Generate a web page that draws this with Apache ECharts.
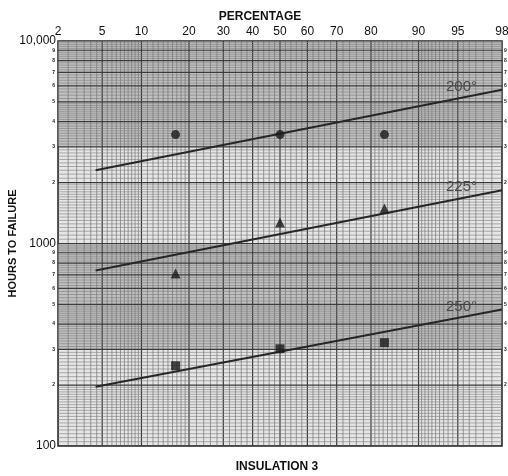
<!DOCTYPE html>
<html>
<head>
<meta charset="utf-8">
<script src="https://cdn.jsdelivr.net/npm/echarts@6/dist/echarts.min.js"></script>
<style>
html, body { margin: 0; padding: 0; background: #fff; }
#main { width: 508px; height: 476px; }
</style>
</head>
<body>
<div id="main"></div>
<script>
// data
var pctLabels = [2, 5, 10, 20, 30, 40, 50, 60, 70, 80, 90, 95, 98];
var pointPct = [16.7, 50, 83.3];
var hours200 = [3450, 3450, 3450];
var hours225 = [710, 1270, 1490];
var hours250 = [249, 302, 324];
// fitted lines, start and end (percent, hours)
var linePct = [4.4, 98];
var line200 = [2300, 5750];
var line225 = [735, 1830];
var line250 = [196, 472];
var shadedBands = [[3000, 10000], [300, 1000]];

// inverse normal cdf (Acklam) for probability paper
function probit(p) {
	var a = [-3.969683028665376e+01, 2.209460984245205e+02, -2.759285104469687e+02, 1.383577518672690e+02, -3.066479806614716e+01, 2.506628277459239e+00];
	var b = [-5.447609879822406e+01, 1.615858368580409e+02, -1.556989798598866e+02, 6.680131188771972e+01, -1.328068155288572e+01];
	var c = [-7.784894002430293e-03, -3.223964580411365e-01, -2.400758277161838e+00, -2.549732953214325e+00, 4.374664141464968e+00, 2.938163982698783e+00];
	var d = [7.784695709041462e-03, 3.224671290700398e-01, 2.445134137142996e+00, 3.754408661907416e+00];
	var plow = 0.02425, q, r;
	if (p < plow) {
		q = Math.sqrt(-2 * Math.log(p));
		return (((((c[0]*q+c[1])*q+c[2])*q+c[3])*q+c[4])*q+c[5]) / ((((d[0]*q+d[1])*q+d[2])*q+d[3])*q+1);
	}
	if (p <= 1 - plow) {
		q = p - 0.5; r = q * q;
		return (((((a[0]*r+a[1])*r+a[2])*r+a[3])*r+a[4])*r+a[5])*q / (((((b[0]*r+b[1])*r+b[2])*r+b[3])*r+b[4])*r+1);
	}
	q = Math.sqrt(-2 * Math.log(1 - p));
	return -(((((c[0]*q+c[1])*q+c[2])*q+c[3])*q+c[4])*q+c[5]) / ((((d[0]*q+d[1])*q+d[2])*q+d[3])*q+1);
}
function zp(pct) { return probit(pct / 100); }

var zMin = zp(2), zMax = zp(98);
var yMin = 100, yMax = 10000;

// paper grid (styling only)
var vGrid = [];
function addV(from, to, step) {
	for (var p = from; p <= to + 1e-9; p += step) {
		var v = Math.round(p * 10) / 10;
		vGrid.push([zp(v), yMin, pctLabels.indexOf(v) >= 0 ? 1 : 0]);
	}
}
addV(2, 9.5, 0.5); addV(10, 19, 1); addV(20, 78, 2); addV(80, 89, 1); addV(90, 98, 0.5);

var hGrid = [];
[100, 1000].forEach(function (dec) {
	var m;
	for (m = 1; m < 2 - 1e-9; m += 0.05) hGrid.push([zMin, dec * m, Math.abs(m - Math.round(m)) < 1e-6 ? 1 : 0]);
	for (m = 2; m < 5 - 1e-9; m += 0.1) hGrid.push([zMin, dec * m, Math.abs(m - Math.round(m)) < 1e-6 ? 1 : 0]);
	for (m = 5; m < 10 - 1e-9; m += 0.2) hGrid.push([zMin, dec * m, Math.abs(m - Math.round(m)) < 1e-6 ? 1 : 0]);
});
hGrid.push([zMin, 10000, 1]);

var minorVals = [];
[100, 1000].forEach(function (dec) {
	for (var m = 2; m <= 9; m++) minorVals.push(dec * m);
});

function pts(pcts, hrs) {
	return pcts.map(function (p, i) { return [zp(p), hrs[i]]; });
}
function mantissa(v) {
	return String(Math.round(v / Math.pow(10, Math.floor(Math.log10(v) + 1e-9))));
}

var myChart = echarts.init(document.getElementById('main'), null, { renderer: 'canvas' });

var lineStyle = { color: '#262626', width: 2 };
function fitLine(name, hrs) {
	return {
		type: 'line', name: name, data: pts(linePct, hrs), symbol: 'none',
		lineStyle: lineStyle, z: 5, silent: true, clip: false,
		endLabel: {
			show: true, formatter: name, color: '#4a4a4a', fontSize: 15,
			fontFamily: 'Liberation Sans, Arial', offset: [-64, -3]
		}
	};
}
function dots(hrs, symbol, size) {
	return {
		type: 'scatter', data: pts(pointPct, hrs), symbol: symbol, symbolSize: size,
		itemStyle: { color: '#1a1a1a' }, z: 6
	};
}

var font = 'Liberation Sans, Arial';
var option = {
	animation: false,
	backgroundColor: '#ffffff',
	title: [{
		text: 'PERCENTAGE', left: 255, top: 6, textAlign: 'center',
		textStyle: { fontSize: 12, fontWeight: 'bold', color: '#111', fontFamily: font }
	}, {
		text: 'INSULATION 3', left: 272, top: 456, textAlign: 'center',
		textStyle: { fontSize: 12, fontWeight: 'bold', color: '#111', fontFamily: font }
	}],
	grid: {
		left: 58, right: 6, top: 41, bottom: 30, outerBoundsMode: 'none', containLabel: false,
		show: true, backgroundColor: '#e6e6e6', borderColor: '#222', borderWidth: 1.5
	},
	xAxis: {
		type: 'value', position: 'top', min: zMin, max: zMax,
		axisLine: { show: false }, axisTick: { show: false }, splitLine: { show: false },
		axisLabel: {
			customValues: pctLabels.map(zp),
			formatter: function (v) {
				var best = pctLabels[0];
				pctLabels.forEach(function (p) { if (Math.abs(zp(p) - v) < Math.abs(zp(best) - v)) best = p; });
				return String(best);
			},
			fontSize: 12, color: '#111', margin: 3, fontFamily: font
		}
	},
	yAxis: [{
		type: 'log', min: yMin, max: yMax, logBase: 10,
		name: 'HOURS TO FAILURE', nameLocation: 'middle', nameGap: 40, nameRotate: 90, nameMoveOverlap: false,
		nameTextStyle: { fontSize: 11, fontWeight: 'bold', color: '#111', fontFamily: font },
		axisLine: { show: false }, axisTick: { show: false }, splitLine: { show: false },
		axisLabel: {
			fontSize: 12, color: '#111', margin: 2, fontFamily: font,
			formatter: function (v) { return v >= 10000 ? '10,000' : String(v); }
		}
	}, {
		type: 'log', min: yMin, max: yMax, logBase: 10, position: 'left',
		axisLine: { show: false }, axisTick: { show: false }, splitLine: { show: false },
		axisLabel: { customValues: minorVals, fontSize: 5, fontWeight: 'bold', color: '#222', margin: 3, formatter: mantissa }
	}, {
		type: 'log', min: yMin, max: yMax, logBase: 10, position: 'right',
		axisLine: { show: false }, axisTick: { show: false }, splitLine: { show: false },
		axisLabel: { customValues: minorVals, fontSize: 5, fontWeight: 'bold', color: '#222', margin: 2, formatter: mantissa }
	}],
	series: [{
		// shaded bands of the paper
		type: 'custom', silent: true, z: 1, clip: true,
		data: shadedBands.map(function (b) { return [zMin, b[0], b[1]]; }),
		renderItem: function (params, api) {
			var p1 = api.coord([zMin, api.value(2)]);
			var p2 = api.coord([zMax, api.value(1)]);
			return { type: 'rect', shape: { x: p1[0], y: p1[1], width: p2[0] - p1[0], height: p2[1] - p1[1] }, style: { fill: '#c0c0c0' } };
		}
	}, {
		type: 'custom', silent: true, z: 2, clip: true,
		data: vGrid,
		renderItem: function (params, api) {
			var major = api.value(2);
			var p1 = api.coord([api.value(0), yMin]);
			var p2 = api.coord([api.value(0), yMax]);
			return { type: 'line', shape: { x1: p1[0], y1: p1[1], x2: p2[0], y2: p2[1] },
				style: { stroke: major ? '#3a3a3a' : '#737373', lineWidth: major ? 1.2 : 0.7 } };
		}
	}, {
		type: 'custom', silent: true, z: 2, clip: true,
		data: hGrid,
		renderItem: function (params, api) {
			var major = api.value(2);
			var p1 = api.coord([zMin, api.value(1)]);
			var p2 = api.coord([zMax, api.value(1)]);
			return { type: 'line', shape: { x1: p1[0], y1: p1[1], x2: p2[0], y2: p2[1] },
				style: { stroke: major ? '#3a3a3a' : '#7a7a7a', lineWidth: major ? 1.2 : 0.6 } };
		}
	},
	fitLine('200°', line200),
	fitLine('225°', line225),
	fitLine('250°', line250),
	dots(hours200, 'circle', 9),
	dots(hours225, 'triangle', 10),
	dots(hours250, 'rect', 9)
	]
};

myChart.setOption(option);
</script>
</body>
</html>
